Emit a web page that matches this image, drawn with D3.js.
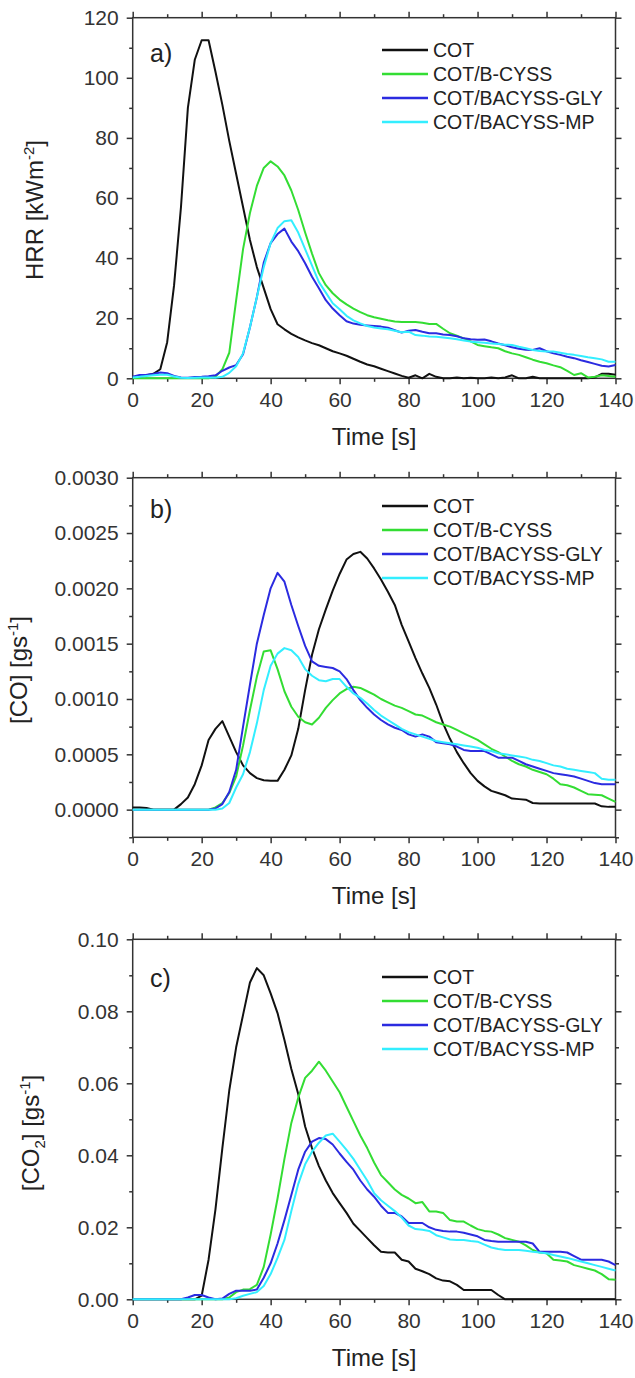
<!DOCTYPE html>
<html>
<head>
<meta charset="utf-8">
<script src="https://cdn.jsdelivr.net/npm/d3@7"></script>
<style>
  body { margin: 0; background: #fff; }
  svg { display: block; font-family: "Liberation Sans", Arial, sans-serif; }
</style>
</head>
<body>
<svg id="chart" width="635" height="1378"></svg>
<script>
// time grid of the measurements, seconds
const time = d3.range(0, 141, 2);
const seriesNames = ["COT", "COT/B-CYSS", "COT/BACYSS-GLY", "COT/BACYSS-MP"];
const seriesColors = ["#111111", "#33dd33", "#2b2be0", "#33eeff"];
const xTicks = [0, 20, 40, 60, 80, 100, 120, 140];
const xMinor = [10, 30, 50, 70, 90, 110, 130];

// a) heat release rate, kW m-2
const hrrCOT = [0.5, 0.3, 1, 1.5, 3, 12, 31, 57, 90, 106,
  112.5, 112.5, 102, 91, 79, 68, 57, 46, 37, 30,
  23, 18, 16.3, 14.8, 13.6, 12.6, 11.7, 11, 10, 9,
  8.3, 7.5, 6.5, 5.5, 4.6, 4, 3.2, 2.4, 1.6, 0.8,
  0.2, 1, 0, 1.5, 0.5, 0, 0, 0.3, 0, 0.2,
  0, 0, 0.3, 0, 0.3, 1, 0, 0, 0.5, 0,
  0, 0, 0, 0, 0, 0, 0, 0.3, 1.5, 1.5,
  1.2];
const hrrBCYSS = [0, 0, 0, 0, 0, 0, 0, 0, 0, 0,
  0, 0, 0.5, 3, 8.5, 26, 43, 55, 64, 70,
  72.2, 70.5, 67.5, 62.5, 56, 48.5, 41.5, 35, 31, 28.3,
  26.2, 24.6, 23.2, 22, 21, 20.3, 19.8, 19.3, 18.9, 18.7,
  18.7, 18.7, 18.5, 18.1, 18.1, 16.5, 15, 14.2, 13.3, 12.3,
  11.1, 10.7, 10.3, 10, 9, 8.3, 7.8, 7, 6.2, 5.5,
  5, 4.3, 3.7, 2.5, 1.1, 1.7, 0.3, 0.5, 1, 0.8,
  0.5];
const hrrGLY = [0.5, 1.1, 1.2, 1.4, 1.9, 1.7, 0.8, 0.3, 0.2, 0.4,
  0.5, 0.7, 1, 2.5, 3.6, 4.4, 8, 17, 27, 38.5,
  45, 48, 49.8, 45.5, 42.3, 38.3, 33.8, 30, 26, 23.2,
  21, 19, 18.2, 17.8, 17.6, 17.4, 17.2, 16.8, 16, 15.2,
  15.8, 16.1, 15.5, 15, 15, 14.6, 14.4, 14, 13.3, 13,
  12.8, 12.9, 12.3, 11.6, 11, 10.3, 9.8, 9.5, 9.4, 10,
  9, 8.3, 7.8, 7.2, 6.7, 6, 5.4, 4.8, 4.2, 3.9,
  4.4];
const hrrMP = [0.3, 0.5, 0.8, 1, 1.2, 1.2, 0.6, 0.2, 0.1, 0.2,
  0.3, 0.3, 0.2, 0.5, 1.8, 4, 8.3, 17, 27, 37,
  45, 50, 52.3, 52.6, 48.5, 43, 37.5, 32, 28.5, 25,
  23, 20.8, 19.3, 18.3, 17.4, 16.9, 16.6, 16.3, 15.8, 15.3,
  15.5, 14.4, 14.2, 13.9, 13.8, 13.6, 13.3, 13, 12.6, 12.2,
  12, 11.8, 11.6, 11.4, 11.2, 11.1, 10.5, 10, 9.4, 9.1,
  8.9, 8.9, 8.5, 8.1, 7.8, 7.4, 7, 6.7, 6.3, 5.5,
  5.5];

// b) CO release, in units of 1e-4 g/s
const coUnit = 1e-4;
const coCOT = [0.2, 0.2, 0.15, 0, 0, 0, 0, 0.5, 1.1, 2.3,
  4, 6.3, 7.3, 8, 6.6, 5.2, 4, 3.3, 2.85, 2.65,
  2.6, 2.6, 3.6, 4.9, 7.3, 10.8, 14, 16.3, 18.1, 19.8,
  21.3, 22.6, 23.1, 23.3, 22.7, 21.8, 20.8, 19.7, 18.5, 16.7,
  15.2, 13.7, 12.3, 11, 9.5, 7.8, 6.4, 5.2, 4.2, 3.3,
  2.6, 2.1, 1.7, 1.5, 1.3, 1, 0.95, 0.9, 0.6, 0.55,
  0.55, 0.55, 0.55, 0.55, 0.55, 0.55, 0.55, 0.55, 0.3, 0.25,
  0.25];
const coBCYSS = [0, 0, 0, 0, 0, 0, 0, 0, 0, 0,
  0, 0, 0.2, 0.6, 1.5, 3, 5.8, 9, 12, 14.3,
  14.4, 12.7, 10.7, 9.3, 8.4, 7.9, 7.7, 8.3, 9.2, 9.9,
  10.5, 10.9, 11.1, 11, 10.7, 10.4, 10, 9.7, 9.4, 9.2,
  8.9, 8.6, 8.5, 8.2, 7.9, 7.7, 7.5, 7.2, 6.9, 6.6,
  6.3, 5.9, 5.5, 5.2, 4.8, 4.4, 4.1, 3.9, 3.6, 3.4,
  3.2, 2.8, 2.3, 2.2, 2, 1.7, 1.4, 1.35, 1.3, 1,
  0.7];
const coGLY = [0, 0, 0, 0, 0, 0, 0, 0, 0, 0,
  0, 0, 0.1, 0.5, 1.6, 3.6, 7.5, 11.3, 15, 17.6,
  20, 21.4, 20.6, 18.5, 16.6, 14.8, 13.4, 13, 12.9, 12.8,
  12.5, 11.8, 10.8, 9.9, 9.2, 8.6, 8.1, 7.7, 7.4, 7.2,
  6.8, 6.6, 6.8, 6.6, 6.1, 6, 5.9, 5.7, 5.4, 5.3,
  5.3, 5.3, 5, 4.7, 4.7, 4.7, 4.4, 4.1, 3.9, 3.7,
  3.5, 3.3, 3.2, 3.1, 3, 2.8, 2.6, 2.4, 2.3, 2.3,
  2.3];
const coMP = [0, 0, 0, 0, 0, 0, 0, 0, 0, 0,
  0, 0, 0, 0.1, 0.6, 2, 3.2, 5.2, 7.8, 10.8,
  13, 14.1, 14.6, 14.4, 13.8, 12.7, 12.1, 11.7, 11.6, 11.8,
  11.8, 11.1, 10.5, 10.1, 9.6, 9, 8.5, 8.1, 7.7, 7.3,
  7, 6.8, 6.6, 6.4, 6.2, 6.1, 6, 5.9, 5.8, 5.7,
  5.6, 5.4, 5.3, 5.1, 5, 4.9, 4.8, 4.7, 4.5, 4.4,
  4.2, 4, 3.9, 3.7, 3.6, 3.5, 3.4, 3.3, 2.8, 2.7,
  2.7];

// c) CO2 release, in units of 0.01 g/s
const co2Unit = 0.01;
const co2COT = [0, 0, 0, 0, 0, 0, 0, 0, 0, 0,
  0.1, 1.1, 2.5, 4.2, 5.8, 7, 7.9, 8.8, 9.2, 9,
  8.5, 7.95, 7.2, 6.4, 5.7, 4.8, 4.2, 3.7, 3.3, 2.95,
  2.67, 2.4, 2.1, 1.9, 1.7, 1.5, 1.32, 1.3, 1.3, 1.1,
  1.05, 0.85, 0.78, 0.7, 0.58, 0.52, 0.5, 0.4, 0.26, 0.26,
  0.26, 0.26, 0.26, 0.12, 0, 0, 0, 0, 0, 0,
  0, 0, 0, 0, 0, 0, 0, 0, 0, 0,
  0];
const co2BCYSS = [0, 0, 0, 0, 0, 0, 0, 0, 0, 0,
  0, 0, 0, 0, 0.05, 0.2, 0.27, 0.28, 0.4, 0.9,
  1.8, 2.8, 3.9, 4.9, 5.6, 6.15, 6.35, 6.6, 6.35, 6.05,
  5.75, 5.35, 4.95, 4.55, 4.2, 3.8, 3.45, 3.25, 3.05, 2.9,
  2.8, 2.67, 2.7, 2.44, 2.44, 2.4, 2.2, 2.16, 2.16, 2.05,
  1.95, 1.9, 1.88, 1.8, 1.7, 1.65, 1.6, 1.5, 1.37, 1.3,
  1.28, 1.1, 1.08, 1.05, 0.95, 0.9, 0.85, 0.8, 0.7, 0.56,
  0.54];
const co2GLY = [0, 0, 0, 0, 0, 0, 0, 0, 0.05, 0.12,
  0.12, 0.05, 0, 0.02, 0.15, 0.24, 0.24, 0.24, 0.27, 0.6,
  1, 1.55, 2.2, 2.9, 3.6, 4.1, 4.38, 4.48, 4.45, 4.3,
  4.05, 3.82, 3.6, 3.3, 3.05, 2.85, 2.6, 2.4, 2.4, 2.3,
  2.12, 2.12, 2.12, 2, 1.93, 1.9, 1.88, 1.88, 1.85, 1.8,
  1.75, 1.65, 1.62, 1.6, 1.6, 1.6, 1.6, 1.6, 1.55, 1.32,
  1.32, 1.32, 1.32, 1.3, 1.2, 1.1, 1.1, 1.1, 1.1, 1.05,
  0.95];
const co2MP = [0, 0, 0, 0, 0, 0, 0, 0, 0, 0,
  0, 0, 0, 0, 0, 0.03, 0.1, 0.15, 0.2, 0.37,
  0.7, 1.15, 1.65, 2.45, 3.2, 3.75, 4.1, 4.35, 4.55, 4.6,
  4.38, 4.15, 3.9, 3.6, 3.3, 2.95, 2.75, 2.6, 2.45, 2.27,
  2.05, 1.95, 1.93, 1.9, 1.78, 1.72, 1.66, 1.65, 1.65, 1.62,
  1.6, 1.52, 1.44, 1.4, 1.37, 1.37, 1.37, 1.35, 1.32, 1.3,
  1.28, 1.23, 1.19, 1.15, 1.1, 1.05, 1.0, 0.95, 0.9, 0.85,
  0.8];

const hrrTicks = [0, 20, 40, 60, 80, 100, 120];
const hrrMinor = [10, 30, 50, 70, 90, 110];
const coTicks = [0, 0.0005, 0.001, 0.0015, 0.002, 0.0025, 0.003];
const coMinor = [-0.00025, 0.00025, 0.00075, 0.00125, 0.00175, 0.00225, 0.00275];
const co2Ticks = [0, 0.02, 0.04, 0.06, 0.08, 0.1];
const co2Minor = [0.01, 0.03, 0.05, 0.07, 0.09];

const left = 132.7, right = 615.5;
const axisColor = "#333";

const panels = [
  { tag: "a)", top: 17.7, bottom: 378.3, domain: [0, 120], ticks: hrrTicks, minor: hrrMinor,
    fmt: d3.format("d"), unit: 1, series: [hrrCOT, hrrBCYSS, hrrGLY, hrrMP],
    title: [["HRR [kWm", 0], ["-2", -1], ["]", 0]], titleX: 43, titleY: 210,
    tagY: 62, legendY: 50 },
  { tag: "b)", top: 477.7, bottom: 837.3, domain: [-0.00025, 0.003], ticks: coTicks, minor: coMinor,
    fmt: d3.format(".4f"), unit: coUnit, series: [coCOT, coBCYSS, coGLY, coMP],
    title: [["[CO] [gs", 0], ["-1", -1], ["]", 0]], titleX: 27, titleY: 670,
    tagY: 518, legendY: 506 },
  { tag: "c)", top: 939.3, bottom: 1299.3, domain: [0, 0.1], ticks: co2Ticks, minor: co2Minor,
    fmt: d3.format(".2f"), unit: co2Unit, series: [co2COT, co2BCYSS, co2GLY, co2MP],
    title: [["[CO", 0], ["2", 1], ["] [gs", 0], ["-1", -1], ["]", 0]], titleX: 39, titleY: 1133,
    tagY: 987, legendY: 977 }
];

const svg = d3.select("#chart");

function styleAxis(g) {
  g.select(".domain").remove();
  g.selectAll(".tick line").attr("stroke", axisColor).attr("stroke-width", 1.5);
  g.selectAll(".tick text").attr("fill", axisColor).style("font-size", "21px");
}

panels.forEach(p => {
  const x = d3.scaleLinear().domain([0, 140]).range([left, right]);
  const y = d3.scaleLinear().domain(p.domain).range([p.bottom, p.top]);
  const g = svg.append("g");

  // axes on all four sides, ticks pointing out
  g.append("g").attr("transform", `translate(0,${p.bottom})`)
    .call(d3.axisBottom(x).tickValues(xTicks).tickSize(6).tickPadding(8)).call(styleAxis);
  g.append("g").attr("transform", `translate(0,${p.bottom})`)
    .call(d3.axisBottom(x).tickValues(xMinor).tickSize(3.5).tickFormat("")).call(styleAxis);
  g.append("g").attr("transform", `translate(0,${p.top})`)
    .call(d3.axisTop(x).tickValues(xTicks).tickSize(6).tickFormat("")).call(styleAxis);
  g.append("g").attr("transform", `translate(0,${p.top})`)
    .call(d3.axisTop(x).tickValues(xMinor).tickSize(3.5).tickFormat("")).call(styleAxis);
  g.append("g").attr("transform", `translate(${left},0)`)
    .call(d3.axisLeft(y).tickValues(p.ticks).tickSize(6).tickPadding(8).tickFormat(p.fmt)).call(styleAxis);
  g.append("g").attr("transform", `translate(${left},0)`)
    .call(d3.axisLeft(y).tickValues(p.minor).tickSize(3.5).tickFormat("")).call(styleAxis);
  g.append("g").attr("transform", `translate(${right},0)`)
    .call(d3.axisRight(y).tickValues(p.ticks).tickSize(6).tickFormat("")).call(styleAxis);
  g.append("g").attr("transform", `translate(${right},0)`)
    .call(d3.axisRight(y).tickValues(p.minor).tickSize(3.5).tickFormat("")).call(styleAxis);

  g.append("rect")
    .attr("x", left).attr("y", p.top)
    .attr("width", right - left).attr("height", p.bottom - p.top)
    .attr("fill", "none").attr("stroke", axisColor).attr("stroke-width", 1.5);

  // curves
  const line = d3.line()
    .x((d, i) => x(time[i]))
    .y(d => y(d * p.unit));
  g.selectAll("path.curve")
    .data(p.series)
    .enter().append("path")
      .attr("class", "curve")
      .attr("d", line)
      .attr("fill", "none")
      .attr("stroke", (d, i) => seriesColors[i])
      .attr("stroke-width", 2)
      .attr("stroke-linejoin", "round");

  // panel tag
  g.append("text").attr("x", 150).attr("y", p.tagY)
    .style("font-size", "25px").attr("fill", "#222").text(p.tag);

  // legend
  const leg = g.selectAll("g.leg")
    .data(seriesNames)
    .enter().append("g")
      .attr("class", "leg")
      .attr("transform", (d, i) => `translate(382,${p.legendY + i * 24})`);
  leg.append("line").attr("x1", 0).attr("x2", 46)
    .attr("stroke", (d, i) => seriesColors[i]).attr("stroke-width", 2.5);
  leg.append("text").attr("x", 51).attr("dy", "0.35em")
    .style("font-size", "19.5px").attr("fill", "#222").text(d => d);

  // x title
  g.append("text").attr("x", (left + right) / 2).attr("y", p.bottom + 67)
    .attr("text-anchor", "middle").style("font-size", "24px").attr("fill", "#222")
    .text("Time [s]");

  // y title with super/subscripts
  const t = g.append("text")
    .attr("transform", `translate(${p.titleX},${p.titleY}) rotate(-90)`)
    .attr("text-anchor", "middle").attr("dy", "0.35em")
    .style("font-size", "24px").attr("fill", "#222");
  let shift = 0;
  p.title.forEach(([s, pos]) => {
    const target = pos === -1 ? -9 : pos === 1 ? 6 : 0;
    t.append("tspan")
      .attr("dy", target - shift)
      .style("font-size", pos === 0 ? "24px" : "15px")
      .text(s);
    shift = target;
  });
});
</script>
</body>
</html>
